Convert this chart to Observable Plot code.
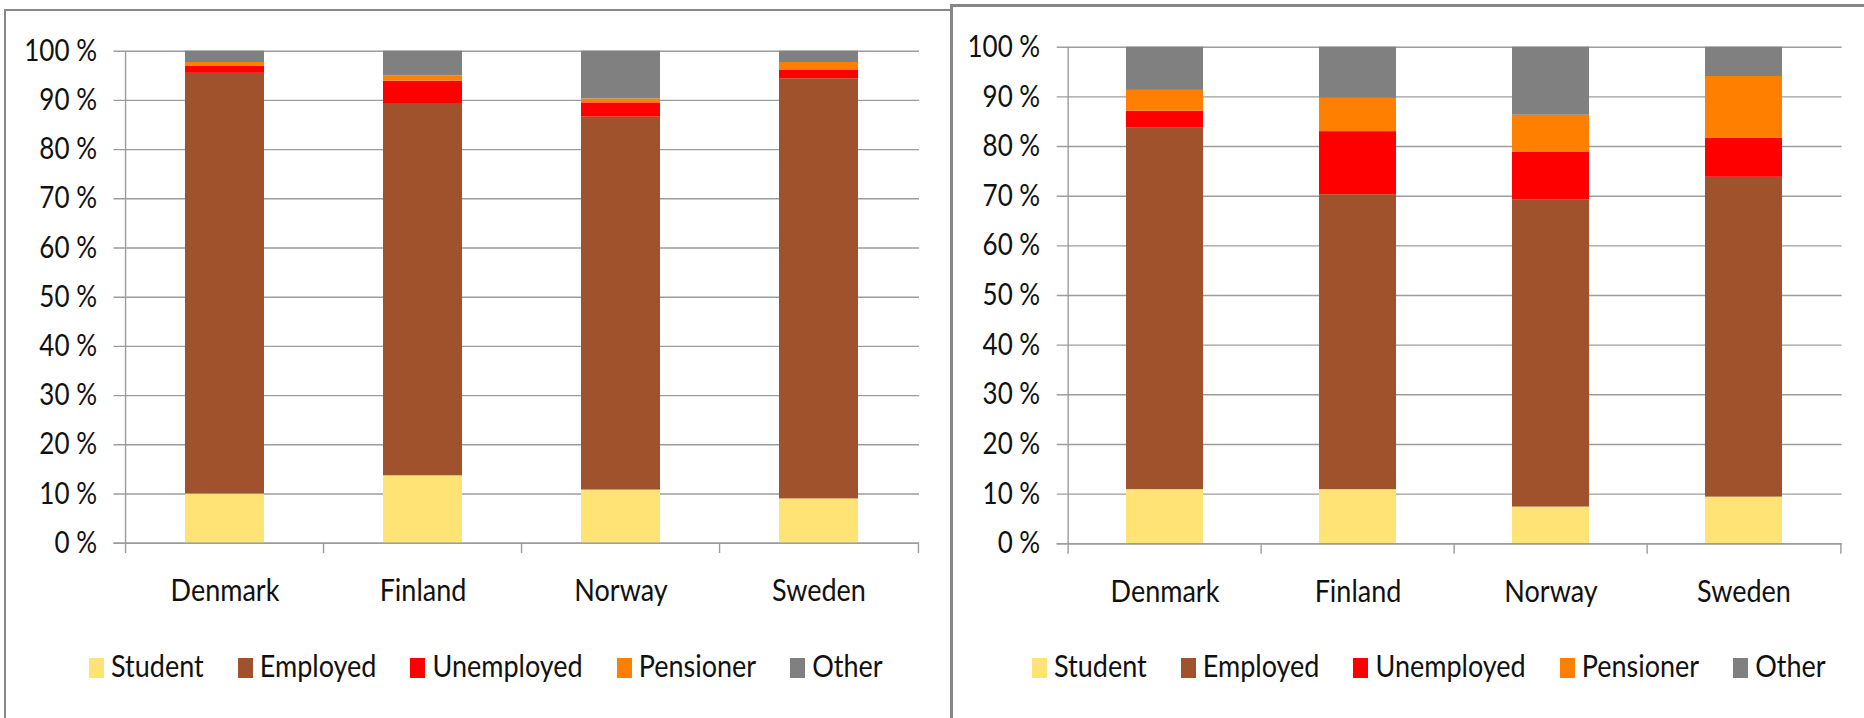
<!DOCTYPE html>
<html><head><meta charset="utf-8">
<script src="https://cdn.jsdelivr.net/npm/d3@7"></script>
<script src="https://cdn.jsdelivr.net/npm/@observablehq/plot@0.6"></script>
<style>
html,body{margin:0;padding:0;background:#fff;}
#root{position:relative;width:1864px;height:718px;overflow:hidden;font-family:Lato,sans-serif;background:#fff;}
.chart{position:absolute;top:0;}
.panel{position:absolute;box-sizing:border-box;background:transparent;pointer-events:none;}
#p1{left:4px;top:9px;width:949px;height:740px;border-left:2px solid #878787;border-top:2px solid #878787;border-right:3px solid #878787;}
#p2{left:950px;top:4px;width:960px;height:740px;border-left:3px solid #878787;border-top:3px solid #878787;}
.legend{position:absolute;top:649px;display:flex;height:34px;}
.item{display:flex;align-items:flex-start;margin-right:34px;}
.sw{width:15px;height:20px;margin-top:9px;margin-right:7px;}
.lab{font-size:27px;line-height:34px;display:inline-block;transform:scaleY(1.14);color:#111;white-space:nowrap;}
</style>
</head><body>
<div id="root">
  <div id="c1" class="chart" style="left:0px"></div>
  <div id="c2" class="chart" style="left:950px"></div>
  <div id="l1" class="legend" style="left:89px"></div>
  <div id="l2" class="legend" style="left:1032px"></div>
  <div id="p1" class="panel"></div>
  <div id="p2" class="panel"></div>
</div>
<script>
const countries = ["Denmark", "Finland", "Norway", "Sweden"];
const statuses = ["Student", "Employed", "Unemployed", "Pensioner", "Other"];
const colors = ["#FFE375", "#A0522D", "#FF0000", "#FF8000", "#808080"];
const yTicks = [0, 10, 20, 30, 40, 50, 60, 70, 80, 90, 100];

// Left chart (percent), one array per status, in country order
const leftStudent    = [10.0, 13.7, 10.8, 9.0];
const leftEmployed   = [85.5, 75.5, 75.8, 85.4];
const leftUnemployed = [1.4, 4.7, 2.9, 1.8];
const leftPensioner  = [0.8, 1.1, 0.8, 1.5];
const leftOther      = [2.3, 5.0, 9.7, 2.3];

// Right chart (percent)
const rightStudent    = [10.9, 10.9, 7.4, 9.4];
const rightEmployed   = [72.9, 59.4, 61.8, 64.4];
const rightUnemployed = [3.3, 12.7, 9.7, 7.9];
const rightPensioner  = [4.2, 6.7, 7.4, 12.4];
const rightOther      = [8.7, 10.3, 13.7, 5.9];

const SY = 1.16;
const gridColor = "#9c9c9c";

function makeChart(series, o) {
  const data = [];
  countries.forEach((c, i) => statuses.forEach((s, j) => data.push({country: c, status: s, value: series[j][i]})));
  const step = (o.width - o.ml - o.mr) / countries.length;
  const svg = Plot.plot({
    width: o.width, height: o.height,
    marginLeft: o.ml, marginRight: o.mr, marginTop: o.mt, marginBottom: o.mb,
    style: {fontFamily: "Lato, sans-serif", fontSize: "26px", color: "#111", background: "transparent", overflow: "visible"},
    x: {domain: countries, paddingInner: 0.6, paddingOuter: 0.3, label: null},
    y: {domain: [0, 100], label: null},
    color: {domain: statuses, range: colors},
    marks: [
      Plot.ruleY(yTicks, {y: d => d, stroke: gridColor, strokeWidth: 1.4, insetLeft: -10}),
      Plot.barY(data, {x: "country", y: "value", fill: "status", inset: 0}),
      Plot.ruleY([0], {stroke: gridColor, strokeWidth: 1.4, insetLeft: -10}),
      Plot.ruleX(countries.slice(0, 1), {x: d => d, dx: -step / 2, y1: -2.1, y2: 100, stroke: gridColor, strokeWidth: 1.4}),
      Plot.ruleX(countries.slice(1), {x: d => d, dx: -step / 2, y1: -2.1, y2: 0, stroke: gridColor, strokeWidth: 1.4}),
      Plot.ruleX(countries.slice(-1), {x: d => d, dx: step / 2, y1: -2.1, y2: 0, stroke: gridColor, strokeWidth: 1.4}),
      Plot.axisY(yTicks, {tickSize: 0, tickPadding: 27, tickFormat: d => `${d} %`, fontSize: 26, label: null}),
      Plot.axisX({tickSize: 0, tickPadding: 36, fontSize: 27, label: null})
    ]
  });
  svg.querySelectorAll("text").forEach(t => {
    const tr = t.getAttribute("transform") || "";
    t.setAttribute("transform", `${tr} scale(1,${SY})`);
  });
  return svg;
}

function makeLegend(el) {
  statuses.forEach((s, i) => {
    const it = document.createElement("div");
    it.className = "item";
    const sw = document.createElement("div");
    sw.className = "sw";
    sw.style.background = colors[i];
    const lb = document.createElement("span");
    lb.className = "lab";
    lb.textContent = s;
    it.appendChild(sw); it.appendChild(lb);
    el.appendChild(it);
  });
}

document.getElementById("c1").appendChild(makeChart(
  [leftStudent, leftEmployed, leftUnemployed, leftPensioner, leftOther],
  {width: 950, height: 620, ml: 123.5, mr: 31, mt: 50.7, mb: 77.3}));
document.getElementById("c2").appendChild(makeChart(
  [rightStudent, rightEmployed, rightUnemployed, rightPensioner, rightOther],
  {width: 914, height: 620, ml: 116.7, mr: 22.4, mt: 46.7, mb: 76.7}));
makeLegend(document.getElementById("l1"));
makeLegend(document.getElementById("l2"));
</script>
</body></html>
